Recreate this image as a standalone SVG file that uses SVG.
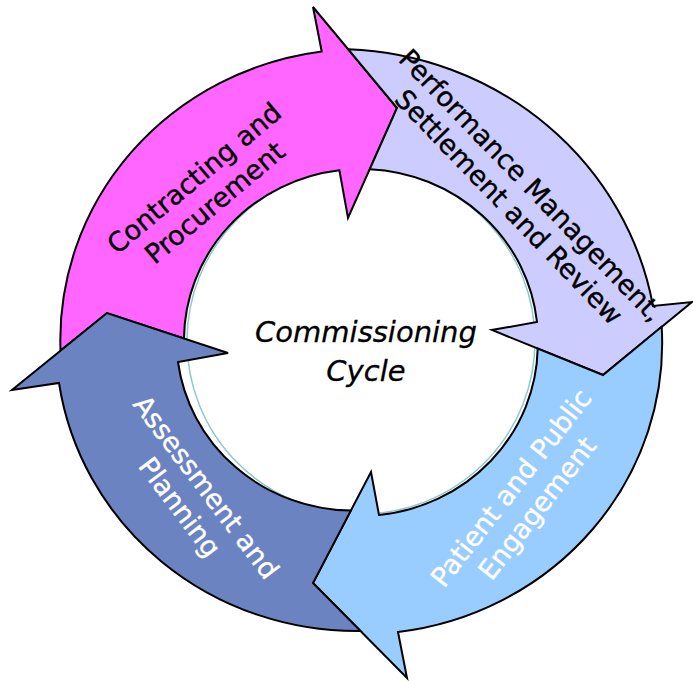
<svg xmlns="http://www.w3.org/2000/svg" width="693" height="681" viewBox="0 0 693 681">
<style>
.arrow{stroke:#000;stroke-width:2;stroke-linejoin:miter}
.lbl{font-family:"DejaVu Sans","Verdana",sans-serif;font-size:27px;text-anchor:middle;stroke-width:0.35}
.dark{fill:#000;stroke:#000}
.light{fill:#fff;stroke:#fff}
.center{font-family:"DejaVu Sans","Verdana",sans-serif;font-size:29px;font-style:italic;text-anchor:middle;fill:#000;stroke:#000;stroke-width:0.3}
</style>
<rect width="693" height="681" fill="#fff"/>
<ellipse id="hub" cx="361" cy="341" rx="174" ry="173" fill="#fff" stroke="#8fc8c8" stroke-width="1.5"/>
<g id="connectors">
<g id="contracting">
<path class="arrow" fill="#ff66ff" d="M 60.5 350.5 A 301 291 0 0 1 321.7 51.5 L 313 7 L 397 108 L 348 218 L 339.4 170.3 A 177 171 0 0 0 184 338.5 L 107 313 Z"/>
<text class="lbl dark" transform="translate(204,190) rotate(-40)"><tspan x="0" y="-6">Contracting and</tspan><tspan x="0" y="26">Procurement</tspan></text>
</g>
<g id="performance">
<path class="arrow" fill="#ccccff" d="M 348.1 49.2 A 322 312 0 0 1 653 306 L 692 302 L 603 375 L 492 330 L 537 322 A 177 171 0 0 0 369.8 169.2 L 397 108 Z"/>
<text class="lbl dark" transform="translate(520,196) rotate(46)"><tspan x="0" y="-6">Performance Management,</tspan><tspan x="0" y="25">Settlement and Review</tspan></text>
</g>
<g id="patient">
<path class="arrow" fill="#99ccff" d="M 661.7 326.8 A 301 291 0 0 1 398 632 L 407 678 L 313 583 L 371 472 L 379 515 A 177 171 0 0 0 537.7 348.5 L 603 375 Z"/>
<text class="lbl light" transform="translate(524,498) rotate(-52)"><tspan x="0" y="-7">Patient and Public</tspan><tspan x="0" y="26">Engagement</tspan></text>
</g>
<g id="assessment">
<path class="arrow" fill="#6b84c1" d="M 360.5 631 A 301 291 0 0 1 59 383 L 12 390 L 107 313 L 228 353 L 178 362 A 177 171 0 0 0 350.8 510.6 L 313 583 Z"/>
<text class="lbl light" transform="translate(193,497) rotate(53)"><tspan x="0" y="-7">Assessment and</tspan><tspan x="0" y="26">Planning</tspan></text>
</g>
</g>
<g id="center-label">
<text class="center" x="366" y="342">Commissioning</text>
<text class="center" x="366" y="381">Cycle</text>
</g>
</svg>
